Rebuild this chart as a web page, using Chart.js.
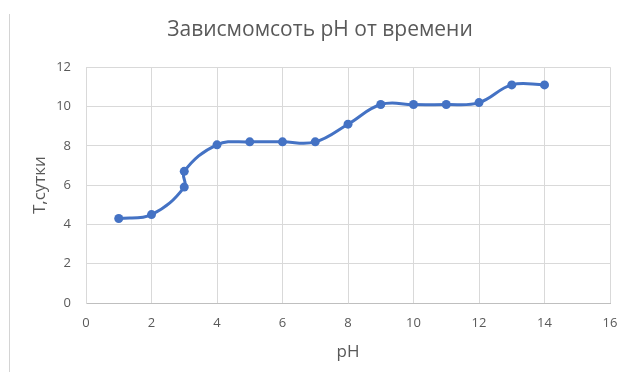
<!DOCTYPE html>
<html>
<head>
<meta charset="utf-8">
<script src="https://cdn.jsdelivr.net/npm/chart.js@4/dist/chart.umd.min.js"></script>
<style>
  html, body { margin: 0; padding: 0; background: #ffffff; }
  #wrap { width: 618px; height: 372px; position: relative; }
</style>
</head>
<body>
<div id="wrap"><canvas id="c"></canvas></div>
<script>
// Measurements: pH against time in days
const phValues   = [1, 2, 3, 3, 4, 5, 6, 7, 8, 9, 10, 11, 12, 13, 14];
const daysValues = [4.3, 4.5, 5.9, 6.7, 8.05, 8.2, 8.2, 8.2, 9.1, 10.1, 10.1, 10.1, 10.2, 11.1, 11.1];

const xTicks = [0, 2, 4, 6, 8, 10, 12, 14, 16];
const yTicks = [0, 2, 4, 6, 8, 10, 12];

const chartTitle = 'Зависмомсоть pH от времени';
const xTitle = 'pH';
const yTitle = 'T,сутки';

const points = phValues.map((x, i) => ({ x: x, y: daysValues[i] }));

const FONT = '"Open Sans", "Noto Sans", sans-serif';
const TEXT = '#595959';
const GRID = '#d9d9d9';
const BLUE = '#4472C4';

// thin frame line on the left edge of the chart object
const frameLine = {
  id: 'frameLine',
  beforeDraw(chart) {
    const ctx = chart.ctx;
    ctx.save();
    ctx.strokeStyle = '#d4d4d4';
    ctx.lineWidth = 1;
    ctx.beginPath();
    ctx.moveTo(9.5, 14);
    ctx.lineTo(9.5, chart.height);
    ctx.stroke();
    ctx.restore();
  }
};

new Chart(document.getElementById('c'), {
  type: 'scatter',
  data: {
    datasets: [{
      data: points,
      showLine: true,
      tension: 0.4,
      borderColor: BLUE,
      backgroundColor: BLUE,
      borderWidth: 3,
      pointRadius: 4.5,
      pointBorderWidth: 0,
      pointBackgroundColor: BLUE
    }]
  },
  options: {
    responsive: true,
    maintainAspectRatio: false,
    animation: false,
    layout: { padding: { left: 22, right: 0, top: 0, bottom: 0 } },
    plugins: {
      legend: { display: false },
      tooltip: { enabled: false },
      title: {
        display: true,
        text: chartTitle,
        color: TEXT,
        font: { family: FONT, size: 21, weight: 'normal' },
        padding: { top: 17, bottom: 25 }
      }
    },
    scales: {
      x: {
        type: 'linear',
        min: 0,
        max: 16,
        afterBuildTicks: (s) => { s.ticks = xTicks.map(v => ({ value: v })); },
        afterFit: (s) => { s.height = 69; s.paddingLeft = 0; s.paddingRight = 8; },
        grid: { color: GRID, drawTicks: false },
        border: { color: '#bfbfbf' },
        ticks: { color: TEXT, font: { family: FONT, size: 13 }, padding: 12 },
        title: {
          display: true, text: xTitle, color: TEXT,
          font: { family: FONT, size: 17 }, padding: 10
        }
      },
      y: {
        type: 'linear',
        min: 0,
        max: 12,
        afterBuildTicks: (s) => { s.ticks = yTicks.map(v => ({ value: v })); },
        afterFit: (s) => { s.width = 64; },
        grid: { color: GRID, drawTicks: false },
        border: { color: GRID },
        ticks: { color: TEXT, font: { family: FONT, size: 13 }, padding: 15 },
        title: {
          display: true, text: yTitle, color: TEXT,
          font: { family: FONT, size: 17 }, padding: 8
        }
      }
    }
  },
  plugins: [frameLine]
});
</script>
</body>
</html>
